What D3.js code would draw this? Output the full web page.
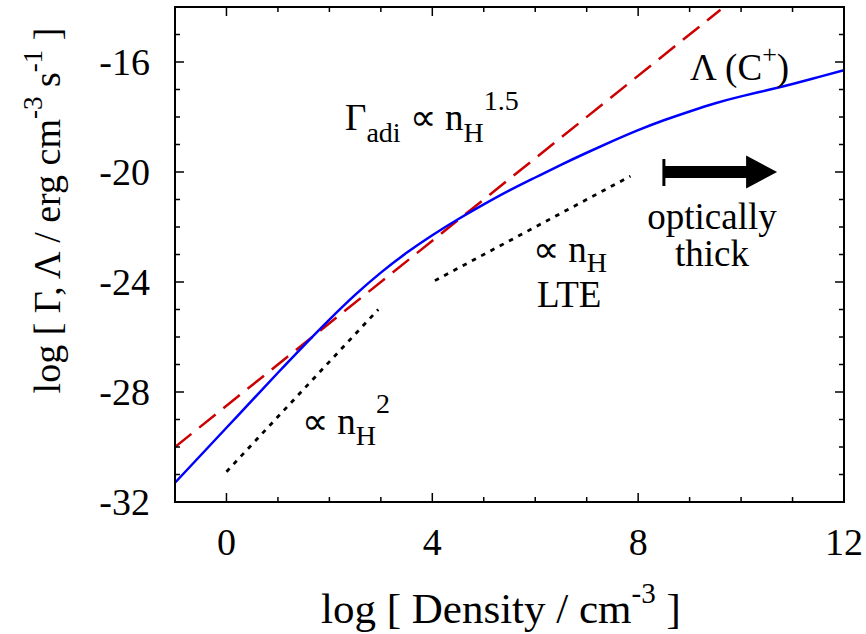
<!DOCTYPE html>
<html>
<head>
<meta charset="utf-8">
<script src="https://cdn.jsdelivr.net/npm/d3@7"></script>
<style>
  body { margin: 0; background: #fff; }
  svg text { font-family: "Liberation Serif", "Times New Roman", serif; fill: #000; }
</style>
</head>
<body>
<div id="chart"></div>
<script>
// log density (cm^-3)
const density = [-1, 0, 1, 1.5, 2, 2.5, 3, 3.5, 4, 4.5, 5, 5.5, 6, 6.5, 7, 7.5, 8, 8.5, 9, 9.5, 10, 10.5, 11, 11.5, 12];
// C+ cooling rate, log erg cm^-3 s^-1
const cooling = [-31.3, -29.3, -27.3, -26.32, -25.37, -24.47, -23.66, -22.94, -22.3, -21.72, -21.18, -20.67, -20.2, -19.74, -19.3, -18.88, -18.48, -18.12, -17.8, -17.5, -17.25, -17.03, -16.8, -16.55, -16.3];
// adiabatic heating, slope 1.5
const heatX = [-1, 9.6];
const heatY = [-30, -14.1];
// reference slopes (dotted)
const slope2X = [0, 2.95];
const slope2Y = [-30.9, -25.0];
const slope1X = [4.05, 7.85];
const slope1Y = [-23.95, -20.15];
// optically thick arrow
const arrowX = [8.5, 10.7];
const arrowY = -20;

const xTicks = [0, 4, 8, 12];
const yTicks = [-32, -28, -24, -20, -16];

const width = 866, height = 634;
const margin = { top: 7, right: 22, bottom: 132, left: 175 };

const svg = d3.select("#chart").append("svg")
  .attr("width", width)
  .attr("height", height);

const x = d3.scaleLinear().domain([-1, 12]).range([margin.left, width - margin.right]);
const y = d3.scaleLinear().domain([-32, -14]).range([height - margin.bottom, margin.top]);

svg.append("clipPath").attr("id", "clip")
  .append("rect")
  .attr("x", x(-1)).attr("y", y(-14))
  .attr("width", x(12) - x(-1)).attr("height", y(-32) - y(-14));

const plot = svg.append("g").attr("clip-path", "url(#clip)");

// ticks: inward, on all four sides
const minorX = d3.range(-1, 13, 1);
const minorY = d3.range(-32, -13, 1);
const tickG = svg.append("g").attr("stroke", "#000").attr("stroke-width", 1.5);
minorX.forEach(v => {
  const len = xTicks.includes(v) ? 9 : 5;
  tickG.append("line").attr("x1", x(v)).attr("x2", x(v)).attr("y1", y(-32)).attr("y2", y(-32) - len);
  tickG.append("line").attr("x1", x(v)).attr("x2", x(v)).attr("y1", y(-14)).attr("y2", y(-14) + len);
});
minorY.forEach(v => {
  const len = yTicks.includes(v) ? 9 : 5;
  tickG.append("line").attr("y1", y(v)).attr("y2", y(v)).attr("x1", x(-1)).attr("x2", x(-1) + len);
  tickG.append("line").attr("y1", y(v)).attr("y2", y(v)).attr("x1", x(12)).attr("x2", x(12) - len);
});

// tick labels
svg.append("g").selectAll("text").data(xTicks).join("text")
  .attr("x", d => x(d)).attr("y", y(-32) + 53)
  .attr("text-anchor", "middle")
  .style("font-size", "38px")
  .text(d => d);
svg.append("g").selectAll("text").data(yTicks).join("text")
  .attr("x", x(-1) - 25).attr("y", d => y(d) + 13)
  .attr("text-anchor", "end")
  .style("font-size", "38px")
  .text(d => d);

// lines
const line = d3.line().x(d => x(d[0])).y(d => y(d[1]));

plot.append("path")
  .datum(d3.zip(slope2X, slope2Y))
  .attr("d", line)
  .attr("fill", "none").attr("stroke", "#000").attr("stroke-width", 2.8)
  .attr("stroke-dasharray", "4.5,6");
plot.append("path")
  .datum(d3.zip(slope1X, slope1Y))
  .attr("d", line)
  .attr("fill", "none").attr("stroke", "#000").attr("stroke-width", 2.8)
  .attr("stroke-dasharray", "4.5,6");

plot.append("path")
  .datum(d3.zip(heatX, heatY))
  .attr("d", line)
  .attr("fill", "none").attr("stroke", "#cc0000").attr("stroke-width", 2.5)
  .attr("stroke-dasharray", "21,10");

plot.append("path")
  .datum(d3.zip(density, cooling))
  .attr("d", d3.line().x(d => x(d[0])).y(d => y(d[1])).curve(d3.curveNatural))
  .attr("fill", "none").attr("stroke", "#0000ff").attr("stroke-width", 2.5);

// frame
svg.append("rect")
  .attr("x", x(-1)).attr("y", y(-14))
  .attr("width", x(12) - x(-1)).attr("height", y(-32) - y(-14))
  .attr("fill", "none").attr("stroke", "#000").attr("stroke-width", 2);

// arrow
const ay = y(arrowY);
svg.append("line")
  .attr("x1", x(arrowX[0])).attr("x2", x(arrowX[0]))
  .attr("y1", ay - 13).attr("y2", ay + 14)
  .attr("stroke", "#000").attr("stroke-width", 3);
const headLen = 31;
svg.append("path")
  .attr("d", `M${x(arrowX[0])},${ay - 6} L${x(arrowX[1]) - headLen},${ay - 6} L${x(arrowX[1]) - headLen},${ay - 16.5} L${x(arrowX[1])},${ay} L${x(arrowX[1]) - headLen},${ay + 16.5} L${x(arrowX[1]) - headLen},${ay + 6} L${x(arrowX[0])},${ay + 6} Z`)
  .attr("fill", "#000");

// annotation helper: parts = [text, shiftY, size]
function label(sel, parts, size) {
  let prev = 0;
  parts.forEach(p => {
    const [txt, dy, s] = p;
    sel.append("tspan").attr("dy", dy - prev).style("font-size", (s || size) + "px").text(txt);
    prev = dy;
  });
  return sel;
}
function textAt(px, py, size) {
  return svg.append("text").attr("x", px).attr("y", py).style("font-size", size + "px");
}

label(textAt(345, 130, 37), [["Γ", 0], ["adi", 12, 28], [" ∝ n", 0], ["H", 12, 28], ["1.5", -20, 28]], 37);
label(textAt(690, 80, 37), [["Λ (C", 0], ["+", -17, 26], [")", 0]], 37);
textAt(712, 229, 37).attr("text-anchor", "middle").text("optically");
textAt(712, 266, 37).attr("text-anchor", "middle").text("thick");
label(textAt(533, 262, 37), [["∝ n", 0], ["H", 10, 28]], 37);
textAt(537, 307, 37).text("LTE");
label(textAt(302, 434, 37), [["∝ n", 0], ["H", 11, 28], ["2", -21, 28]], 37);

// axis titles
label(textAt(321, 623, 43), [["log [ Density / cm", 0], ["-3", -20, 29], [" ]", 0]], 43);
const yl = svg.append("text")
  .attr("transform", `translate(60,${y(-23) - 44}) rotate(-90)`)
  .attr("text-anchor", "middle")
  .style("font-size", "38px");
label(yl, [["log [ Γ, Λ / erg cm", 0], ["-3", -18, 27], [" s", 0], ["-1", -18, 27], [" ]", 0]], 38);
</script>
</body>
</html>
